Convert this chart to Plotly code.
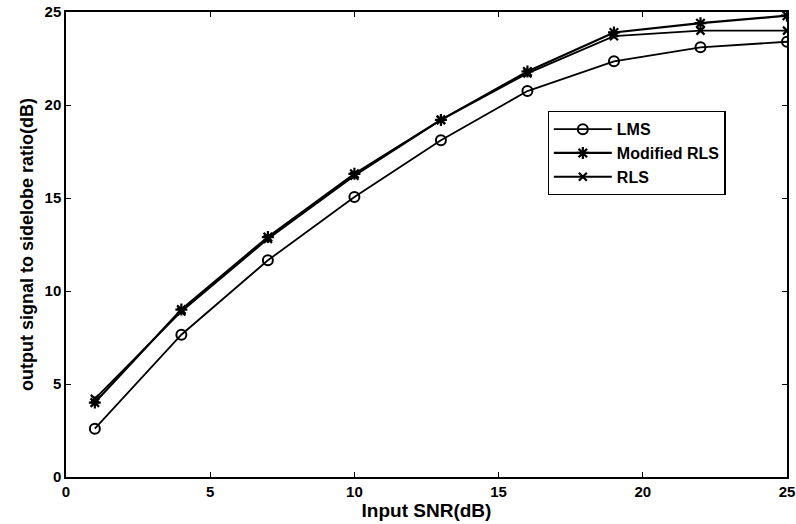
import plotly.graph_objects as go

snr = [1, 4, 7, 10, 13, 16, 19, 22, 25]
lms = [2.6, 7.65, 11.65, 15.05, 18.1, 20.75, 22.35, 23.1, 23.4]
mod_rls = [4.0, 9.0, 12.9, 16.3, 19.2, 21.8, 23.9, 24.4, 24.8]
rls = [4.2, 8.9, 12.8, 16.2, 19.2, 21.7, 23.7, 24.0, 24.0]

x_ticks = [0, 5, 10, 15, 20, 25]
y_ticks = [0, 5, 10, 15, 20, 25]

FONT = "Liberation Sans, Arial, sans-serif"

fig = go.Figure()
fig.add_trace(go.Scatter(
    x=snr, y=lms, name="<b>LMS</b>", mode="lines+markers",
    line=dict(color="black", width=1.8),
    marker=dict(symbol="circle-open", size=10, color="black", line=dict(width=2, color="black")),
))
fig.add_trace(go.Scatter(
    x=snr, y=mod_rls, name="<b>Modified RLS</b>", mode="lines+markers",
    line=dict(color="black", width=2.2),
    marker=dict(symbol="asterisk-open", size=10, color="black", line=dict(width=2.2, color="black")),
))
fig.add_trace(go.Scatter(
    x=snr, y=rls, name="<b>RLS</b>", mode="lines+markers",
    line=dict(color="black", width=1.8),
    marker=dict(symbol="x-thin-open", size=8, color="black", line=dict(width=2.2, color="black")),
))

axis_common = dict(
    showgrid=False, zeroline=False,
    showline=True, linecolor="black", linewidth=1.5, mirror="ticks",
    ticks="inside", ticklen=5, tickcolor="black", tickwidth=1,
    tickfont=dict(family=FONT, size=15, color="black"),
)

fig.update_layout(
    width=796, height=524,
    margin=dict(l=66, r=9, t=12, b=47),
    paper_bgcolor="white", plot_bgcolor="white",
    font=dict(family=FONT, color="black"),
    xaxis=dict(
        range=[0, 25], tickvals=x_ticks, ticktext=[f"<b>{t}</b>" for t in x_ticks],
        title=dict(text="<b>Input SNR(dB)</b>", font=dict(family=FONT, size=19), standoff=2),
        automargin=False,
        **axis_common,
    ),
    yaxis=dict(
        range=[0, 25], tickvals=y_ticks, ticktext=[f"<b>{t}</b>" for t in y_ticks],
        title=dict(text="<b>output signal to sidelobe ratio(dB)</b>", font=dict(family=FONT, size=18), standoff=6),
        automargin=False,
        **axis_common,
    ),
    legend=dict(
        x=0.668, y=0.787, xanchor="left", yanchor="top",
        bordercolor="black", borderwidth=1.2, bgcolor="white",
        font=dict(family=FONT, size=16, color="black"),
        tracegroupgap=0, itemwidth=58,
    ),
    showlegend=True,
)

fig.write_html("out.html", config={"displayModeBar": False},
               post_script="document.body.style.margin='0';")
